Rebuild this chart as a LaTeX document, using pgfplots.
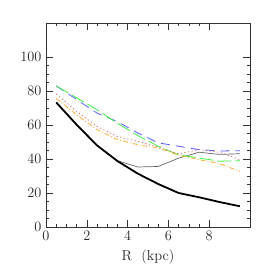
\documentclass[border=0pt]{standalone}
\usepackage{pgfplots}
\pgfplotsset{compat=1.18}
\definecolor{cblue}{rgb}{0.35,0.35,1}
\definecolor{cgreen}{rgb}{0.25,0.95,0.25}
\definecolor{cred}{rgb}{0.85,0.45,0.45}
\definecolor{corange}{rgb}{1,0.68,0.2}
\begin{document}
\begin{tikzpicture}[x=1bp,y=1bp]
\path[use as bounding box] (-46,-46) rectangle (227,227);
\begin{axis}[
  at={(0,0)}, anchor=south west,
  scale only axis, width=204bp, height=204bp,
  xmin=0, xmax=10, ymin=0, ymax=120,
  xtick={0,2,4,6,8}, ytick={0,20,40,60,80,100},
  minor x tick num=3, minor y tick num=3,
  tick pos=both, tick align=inside,
  major tick length=7bp, minor tick length=3.5bp,
  every tick/.style={black!80, line width=0.6pt},
  axis line style={black!80, line width=0.8pt},
  tick label style={font=\fontsize{14.5}{15}\selectfont, text=black!85},
  label style={font=\fontsize{14.5}{15}\selectfont, text=black!85},
  xticklabel style={yshift=-1bp},
  yticklabel style={xshift=-1bp},
  xlabel={R\ \ (kpc)},
  xlabel style={yshift=-2bp},
]
\addplot[black!60, line width=0.7pt] coordinates {(0.5,73) (1.5,60.2) (2.5,48) (3.5,39) (4.5,35.3) (5.5,35.6) (6.5,40.5) (7.5,44) (8.5,42.7) (9.5,43.1)};
\addplot[black, line width=1.8pt] coordinates {(0.5,73.3) (1.5,60.2) (2.5,48) (3.5,38.8) (4.5,31.4) (5.5,25.3) (6.5,20) (7.5,17.5) (8.5,14.7) (9.5,12.2)};
\addplot[cblue, line width=0.8pt, dash pattern=on 9bp off 6bp] coordinates {(0.5,83) (1.5,75) (2.5,67) (3.5,62) (4.5,55.3) (5.5,49.5) (6.5,47.5) (7.5,45.5) (8.5,44.7) (9.5,44.9)};
\addplot[cgreen, line width=0.8pt, dash pattern=on 14bp off 4bp] coordinates {(0.5,83) (1.5,76) (2.5,69) (3.5,61) (4.5,53.8) (5.5,47.5) (6.5,42.4) (7.5,40.6) (8.5,38.7) (9.5,39)};
\addplot[cred, line width=0.8pt, dash pattern=on 1.2bp off 2.5bp] coordinates {(0.5,78.2) (1.5,68) (2.5,59.2) (3.5,53.3) (4.5,50.4) (5.5,47) (6.5,43) (7.5,45.5) (8.5,44) (9.5,39.6)};
\addplot[corange, line width=0.8pt, dash pattern=on 5bp off 2bp on 1bp off 2bp] coordinates {(0.5,75.7) (1.5,66) (2.5,57.3) (3.5,51.4) (4.5,48.4) (5.5,46.5) (6.5,42.2) (7.5,39.6) (8.5,37.3) (9.5,32.7)};
\end{axis}
\end{tikzpicture}
\end{document}
